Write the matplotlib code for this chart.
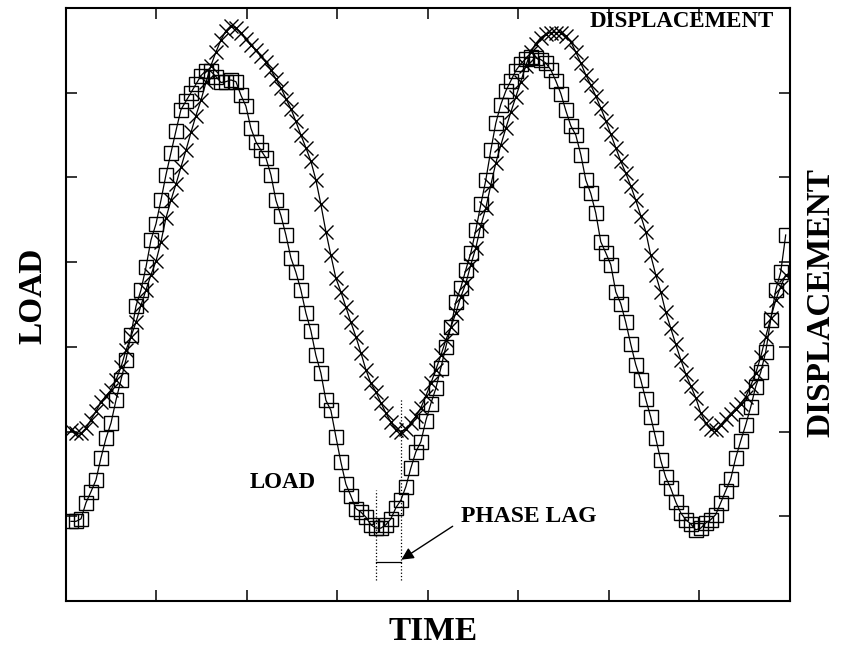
import numpy as np
import matplotlib
matplotlib.use("Agg")
import matplotlib.pyplot as plt

# sampled time axis (arbitrary units, 8 divisions on the plot)
t0 = 0.055
dt = 0.05525

load = [
    0.94, 0.94, 0.97, 1.16, 1.29, 1.43, 1.69, 1.92, 2.10, 2.37,
    2.61, 2.85, 3.14, 3.48, 3.67, 3.94, 4.26, 4.45, 4.73, 5.03,
    5.29, 5.55, 5.80, 5.90, 6.00, 6.10, 6.20, 6.26, 6.25, 6.19,
    6.12, 6.13, 6.15, 6.13, 5.97, 5.84, 5.58, 5.42, 5.32, 5.23,
    5.03, 4.73, 4.55, 4.32, 4.05, 3.88, 3.67, 3.40, 3.19, 2.90,
    2.69, 2.37, 2.25, 1.94, 1.64, 1.38, 1.24, 1.09, 1.05, 0.99,
    0.90, 0.86, 0.86, 0.90, 0.97, 1.10, 1.19, 1.35, 1.57, 1.76,
    1.88, 2.13, 2.33, 2.51, 2.75, 3.00, 3.23, 3.53, 3.70, 3.91,
    4.11, 4.38, 4.68, 4.97, 5.32, 5.64, 5.86, 6.02, 6.14, 6.26,
    6.34, 6.40, 6.42, 6.41, 6.39, 6.35, 6.27, 6.14, 5.99, 5.79,
    5.61, 5.50, 5.27, 4.97, 4.81, 4.58, 4.24, 4.11, 3.97, 3.65,
    3.51, 3.29, 3.03, 2.79, 2.61, 2.38, 2.17, 1.92, 1.66, 1.46,
    1.33, 1.17, 1.04, 0.96, 0.91, 0.84, 0.86, 0.92, 0.96, 1.02,
    1.16, 1.30, 1.44, 1.69, 1.89, 2.08, 2.29, 2.53, 2.70, 2.94,
    3.32, 3.67, 3.88, 4.32,
]

displacement = [
    2.02, 1.98, 1.98, 2.04, 2.14, 2.24, 2.35, 2.42, 2.49, 2.61,
    2.76, 2.96, 3.12, 3.29, 3.49, 3.67, 3.85, 4.01, 4.24, 4.52,
    4.73, 4.92, 5.12, 5.32, 5.53, 5.73, 5.91, 6.12, 6.32, 6.48,
    6.62, 6.73, 6.79, 6.76, 6.71, 6.63, 6.56, 6.50, 6.43, 6.36,
    6.27, 6.16, 6.06, 5.93, 5.81, 5.66, 5.50, 5.35, 5.19, 4.97,
    4.68, 4.36, 4.08, 3.81, 3.65, 3.47, 3.29, 3.12, 2.93, 2.73,
    2.57, 2.47, 2.34, 2.22, 2.11, 2.02, 2.00, 2.03, 2.10, 2.18,
    2.28, 2.42, 2.57, 2.73, 2.90, 3.08, 3.23, 3.40, 3.59, 3.75,
    3.97, 4.17, 4.43, 4.64, 4.91, 5.17, 5.38, 5.58, 5.77, 5.95,
    6.13, 6.32, 6.48, 6.58, 6.65, 6.69, 6.71, 6.71, 6.71, 6.67,
    6.60, 6.48, 6.35, 6.21, 6.09, 5.96, 5.82, 5.67, 5.51, 5.35,
    5.19, 5.05, 4.90, 4.73, 4.55, 4.36, 4.08, 3.85, 3.65, 3.41,
    3.22, 3.03, 2.85, 2.68, 2.54, 2.40, 2.22, 2.10, 2.03, 2.02,
    2.08, 2.15, 2.21, 2.27, 2.33, 2.41, 2.54, 2.69, 2.88, 3.12,
    3.34, 3.55, 3.71, 3.85,
]

time = t0 + dt * np.arange(len(load))
load = np.array(load)
displacement = np.array(displacement)

serif = ['Liberation Serif', 'DejaVu Serif']

fig = plt.figure(figsize=(8.41, 6.51), dpi=100)
ax = fig.add_axes([0.0785, 0.0768, 0.8605, 0.911])

ax.plot(time, displacement, color='black', lw=0.9, marker='x', ms=10.5,
        mew=1.0)
ax.plot(time, load, color='black', lw=0.9, marker='s', ms=9.5,
        mfc='none', mew=1.0)

ax.set_xlim(0, 8)
ax.set_ylim(0, 7)
ax.set_xticks(np.arange(1, 8))
ax.set_yticks(np.arange(1, 7))
ax.tick_params(direction='in', length=8, width=1.1, top=True, right=True,
               labelbottom=False, labelleft=False)
for s in ax.spines.values():
    s.set_linewidth(1.5)

# phase lag marking between the first load and displacement minima
first = slice(40, 90)
t_load = time[first][np.argmin(load[first])]
t_disp = time[first][np.argmin(displacement[first])]
ax.plot([t_load, t_load], [0.25, load[first].min() + 0.45], ls=':',
        color='black', lw=0.9)
ax.plot([t_disp, t_disp], [0.25, displacement[first].min() + 0.4], ls=':',
        color='black', lw=0.9)
ax.plot([t_load, t_disp], [0.46, 0.46], color='black', lw=0.9)
ax.annotate('', xy=(t_disp - 0.02, 0.47), xytext=(4.30, 0.90),
            arrowprops=dict(arrowstyle='-|>', color='black', lw=1.0,
                            mutation_scale=18))

txt = dict(family=serif, weight='bold', fontsize=16.5, color='black')
ax.text(5.79, 6.84, 'DISPLACEMENT', ha='left', va='center', **txt)
ax.text(2.40, 1.40, 'LOAD', ha='center', va='center', **txt)
ax.text(5.12, 1.00, 'PHASE LAG', ha='center', va='center',
        **dict(txt, fontsize=17))

lab = dict(family=serif, weight='bold', fontsize=24, color='black')
fig.text(433 / 841, 1 - 632 / 651, 'TIME', ha='center', va='center', **lab)
fig.text(33 / 841, 1 - 296 / 651, 'LOAD', ha='center', va='center',
         rotation=90, **lab)
fig.text(821 / 841, 1 - 302 / 651, 'DISPLACEMENT', ha='center',
         va='center', rotation=90, **lab)

fig.savefig('out.png', dpi=100)
